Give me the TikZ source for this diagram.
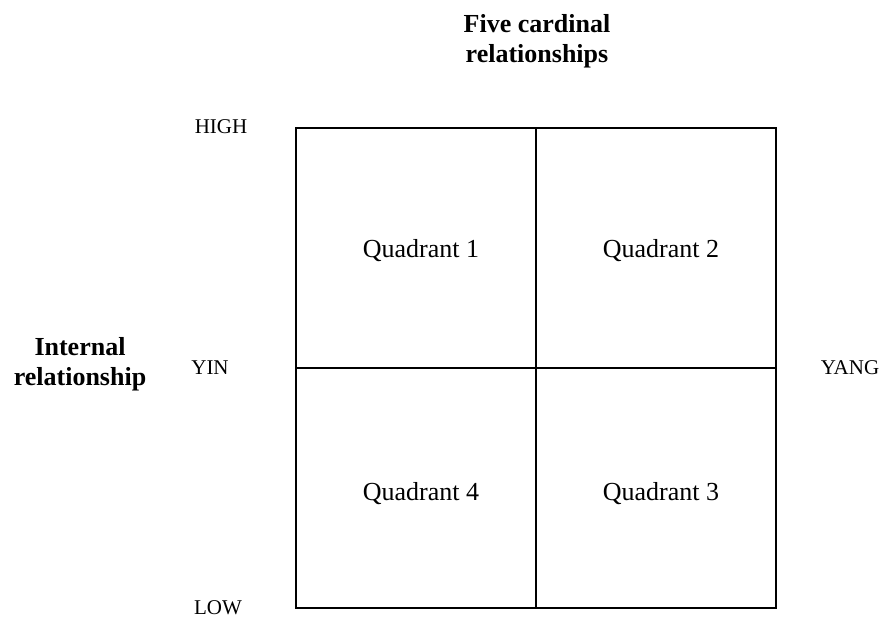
\documentclass[tikz,border=0pt]{standalone}
\usepackage{fontspec}
\setmainfont{Liberation Serif}
\begin{document}
\begin{tikzpicture}[x=1pt,y=-1pt,
  grid/.style={draw=black,line width=1.8pt},
  quad/.style={font=\fontsize{26}{30}\selectfont,inner sep=0pt,anchor=base},
  axislabel/.style={font=\fontsize{21}{25}\selectfont,inner sep=0pt,anchor=base},
  title/.style={font=\fontsize{26}{30}\selectfont\bfseries,align=center,inner sep=0pt}]
\useasboundingbox (0,0) rectangle (882,619);
\coordinate (tl) at (296,128);
\coordinate (br) at (776,608);
\coordinate (tm) at (536,128);
\coordinate (bm) at (536,608);
\coordinate (lm) at (296,368);
\coordinate (rm) at (776,368);
\draw[grid] (tl) rectangle (br);
\draw[grid] (tm) -- (bm);
\draw[grid] (lm) -- (rm);
\node[title] (top) at (537,41) {Five cardinal\\relationships};
\node[title] (left) at (80,364) {Internal\\relationship};
\node[axislabel] (high) at (221,133) {HIGH};
\node[axislabel] (yin) at (210,374) {YIN};
\node[axislabel] (low) at (218,614) {LOW};
\node[axislabel] (yang) at (850,374) {YANG};
\node[quad] (q1) at (421,257) {Quadrant 1};
\node[quad] (q2) at (661,257) {Quadrant 2};
\node[quad] (q4) at (421,500) {Quadrant 4};
\node[quad] (q3) at (661,500) {Quadrant 3};
\end{tikzpicture}
\end{document}
